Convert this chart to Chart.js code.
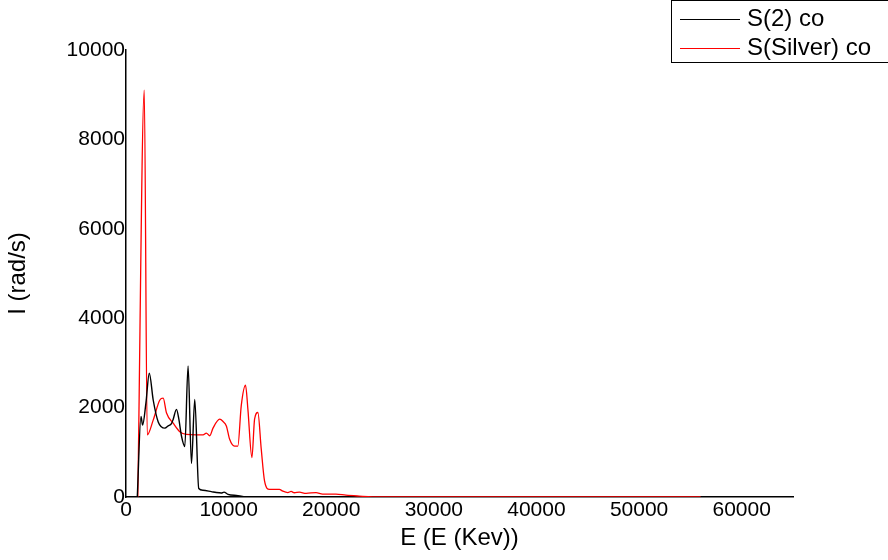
<!DOCTYPE html>
<html>
<head>
<meta charset="utf-8">
<script src="https://cdn.jsdelivr.net/npm/chart.js@4"></script>
<style>
  html, body { margin: 0; padding: 0; background: #fff; }
  #wrap { width: 888px; height: 560px; position: relative; }
</style>
</head>
<body>
<div id="wrap"><canvas id="chart"></canvas></div>
<script>
// S(2) co  (black)
const energyS2 = [1100, 1460, 1620, 1940, 2270, 2650, 3140, 3790, 4110, 4430, 4600, 4920, 5150, 5400, 5730, 6050, 6380, 6700, 7090, 7500, 8310, 8800, 9290, 9550, 9940, 10910, 11560];
const intensityS2 = [0, 1800, 1610, 2100, 2770, 2170, 1680, 1540, 1590, 1640, 1740, 1960, 1740, 1370, 1130, 2930, 750, 2180, 190, 150, 120, 100, 90, 110, 60, 30, 0];

// S(Silver) co  (red)
const energySilver = [1150, 1780, 2070, 2650, 3300, 3620, 3950, 4600, 5240, 5890, 6860, 7510, 7830, 8160, 8480, 9130, 9450, 9780, 10100, 10580, 10900, 11230, 11650, 11880, 12270, 12530, 12850, 13180, 13500, 13980, 14950, 15280, 15770, 16090, 16400, 16900, 17550, 18520, 19160, 20460, 21430, 22720, 24000, 30000, 40000, 50000, 56000];
const intensitySilver = [0, 9100, 1390, 1720, 2170, 2210, 1880, 1650, 1460, 1400, 1390, 1390, 1430, 1370, 1540, 1740, 1690, 1590, 1290, 1140, 1140, 2040, 2500, 1960, 880, 1740, 1890, 1070, 360, 170, 170, 130, 100, 125, 95, 110, 80, 100, 65, 65, 40, 20, 5, 3, 2, 1, 0];

const xTicks = [0, 10000, 20000, 30000, 40000, 50000, 60000];
const yTicks = [0, 2000, 4000, 6000, 8000, 10000];

const toPoints = (xs, ys) => xs.map((x, i) => ({ x: x, y: ys[i] }));

// boxed legend in the top right corner
const boxLegend = {
  id: 'boxLegend',
  afterDraw(chart) {
    const ctx = chart.ctx;
    ctx.save();
    ctx.strokeStyle = '#000';
    ctx.lineWidth = 1;
    ctx.strokeRect(671.5, 0.5, 230, 62);
    ctx.font = '24px "Liberation Sans", Arial, sans-serif';
    ctx.textBaseline = 'middle';
    chart.data.datasets.forEach((ds, i) => {
      const y = 19 + i * 29;
      ctx.strokeStyle = ds.borderColor;
      ctx.lineWidth = 1;
      ctx.beginPath();
      ctx.moveTo(680, y + 0.5);
      ctx.lineTo(740, y + 0.5);
      ctx.stroke();
      ctx.fillStyle = '#000';
      ctx.fillText(ds.label, 747, y);
    });
    ctx.restore();
  }
};

const font = { family: '"Liberation Sans", Arial, sans-serif' };

new Chart(document.getElementById('chart'), {
  type: 'scatter',
  data: {
    datasets: [
      {
        label: 'S(2) co',
        data: toPoints(energyS2, intensityS2),
        showLine: true,
        borderColor: '#000000',
        borderWidth: 1.4,
        pointRadius: 0,
        cubicInterpolationMode: 'monotone'
      },
      {
        label: 'S(Silver) co',
        data: toPoints(energySilver, intensitySilver),
        showLine: true,
        borderColor: '#ff0000',
        borderWidth: 1.3,
        pointRadius: 0,
        cubicInterpolationMode: 'monotone'
      }
    ]
  },
  options: {
    responsive: true,
    maintainAspectRatio: false,
    animation: false,
    layout: { padding: { top: 50, right: 95, left: 0, bottom: 0 } },
    plugins: {
      legend: { display: false },
      tooltip: { enabled: false }
    },
    scales: {
      x: {
        type: 'linear',
        min: 0,
        max: 65000,
        afterFit: s => { s.height = 63; },
        afterBuildTicks: s => { s.ticks = xTicks.map(v => ({ value: v })); },
        grid: { display: false, drawTicks: false },
        border: { display: true, color: '#000', width: 1.5 },
        ticks: {
          color: '#000',
          padding: 1,
          maxRotation: 0,
          font: { ...font, size: 21 },
          callback: v => String(v)
        },
        title: {
          display: true,
          text: 'E (E (Kev))',
          color: '#000',
          font: { ...font, size: 24 },
          padding: { top: 0, bottom: 7 }
        }
      },
      y: {
        type: 'linear',
        min: 0,
        max: 10000,
        afterFit: s => { s.width = 126; },
        afterBuildTicks: s => { s.ticks = yTicks.map(v => ({ value: v })); },
        grid: { display: false, drawTicks: false },
        border: { display: true, color: '#000', width: 1.5 },
        ticks: {
          color: '#000',
          padding: 1,
          font: { ...font, size: 21 },
          callback: v => String(v)
        },
        title: {
          display: true,
          text: 'I (rad/s)',
          color: '#000',
          font: { ...font, size: 24 },
          padding: { top: 4, bottom: 0 }
        }
      }
    }
  },
  plugins: [boxLegend]
});
</script>
</body>
</html>
